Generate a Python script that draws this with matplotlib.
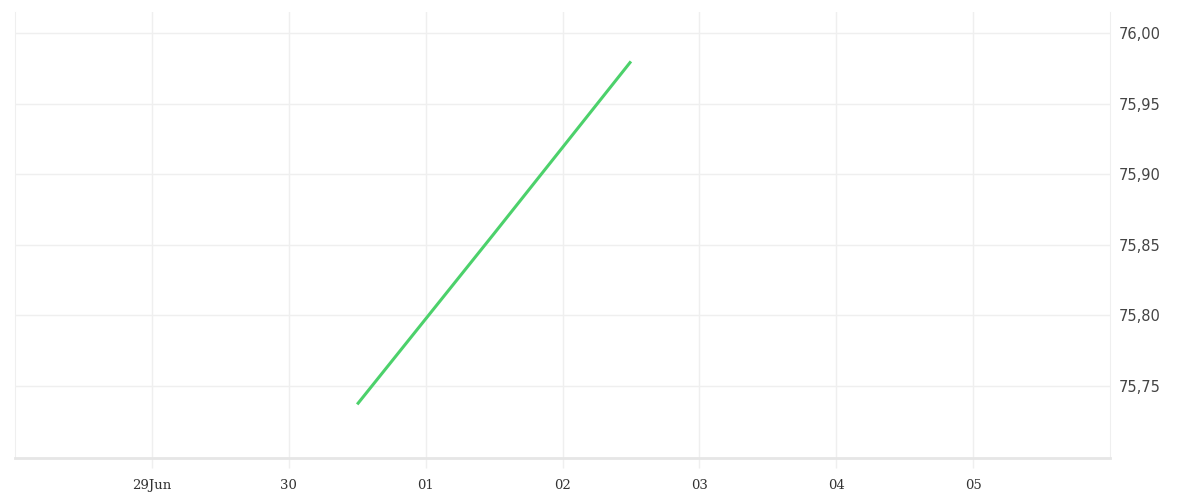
import matplotlib
matplotlib.use("Agg")
import matplotlib.pyplot as plt
import matplotlib.dates as mdates
import pandas as pd
from matplotlib.ticker import FuncFormatter, FixedLocator, FixedFormatter

# series
dates = pd.to_datetime(["2024-06-30 12:00", "2024-07-01 12:00", "2024-07-02 12:00"])
values = [75.737, 75.858, 75.980]

tick_days = pd.to_datetime(["2024-06-29", "2024-06-30", "2024-07-01", "2024-07-02",
                            "2024-07-03", "2024-07-04", "2024-07-05"])
tick_labels = ["29Jun", "30", "01", "02", "03", "04", "05"]
y_ticks = [75.75, 75.80, 75.85, 75.90, 75.95, 76.00]

GRID = "#efefef"
TXT = "#333333"

fig = plt.figure(figsize=(12, 5), dpi=100)
ax = fig.add_axes([15 / 1200, 42 / 500, 1095 / 1200, 446 / 500])
ax.plot(dates, values, color="#4cd16b", lw=2.2, solid_capstyle="butt")

ax.set_xlim(pd.Timestamp("2024-06-28"), pd.Timestamp("2024-07-06"))
ax.set_ylim(75.699, 76.015)

ax.xaxis.set_major_locator(FixedLocator(mdates.date2num(tick_days)))
ax.xaxis.set_major_formatter(FixedFormatter(tick_labels))
ax.yaxis.tick_right()
ax.yaxis.set_major_locator(FixedLocator(y_ticks))
ax.yaxis.set_major_formatter(FuncFormatter(lambda v, p: f"{v:.2f}".replace(".", ",")))

ax.grid(True, color=GRID, lw=1)
ax.tick_params(axis="x", length=7, width=1, color=GRID, pad=8, labelsize=9.5,
               labelcolor=TXT, labelfontfamily="DejaVu Serif")
ax.tick_params(axis="y", length=0, pad=6, labelsize=10.5, labelcolor="#444444",
               labelfontfamily="DejaVu Sans")
ax.spines["top"].set_visible(False)
ax.spines["bottom"].set_color("#e6e6e6")
ax.spines["bottom"].set_linewidth(2)
ax.spines["left"].set_color(GRID)
ax.spines["right"].set_color(GRID)

fig.savefig("out.png", dpi=100)
